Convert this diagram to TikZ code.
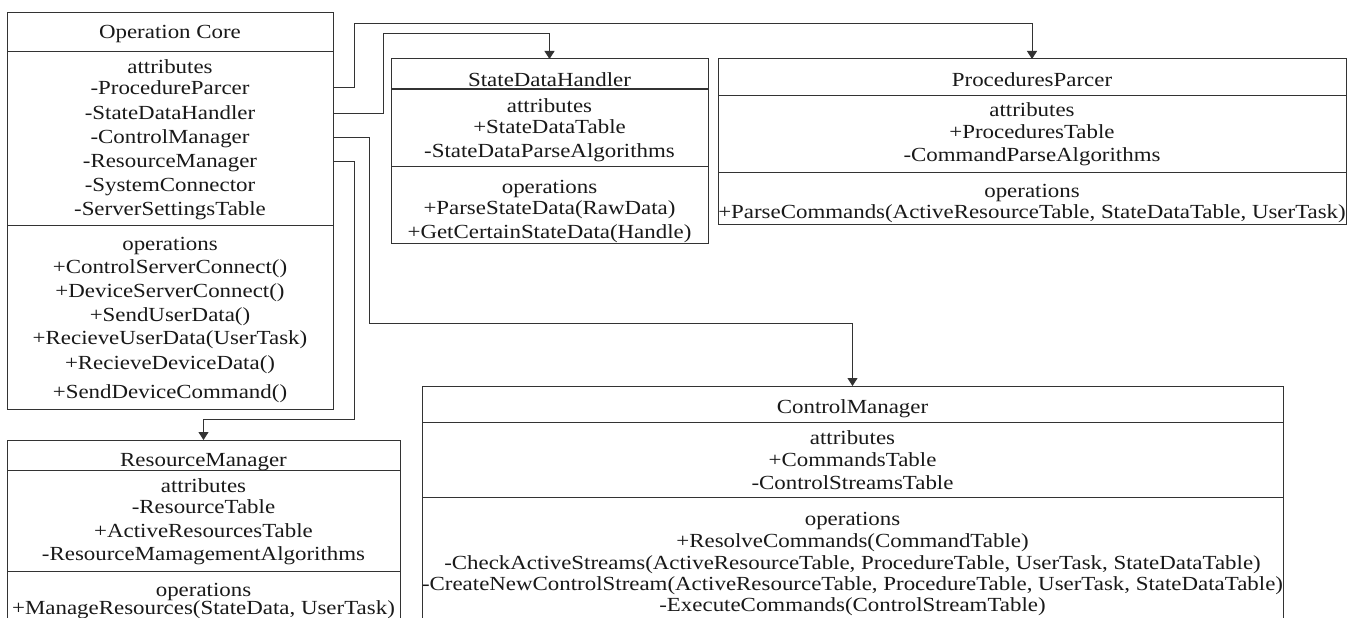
\documentclass[tikz,border=0pt]{standalone}
\usepackage{fontspec}
\setmainfont[FakeStretch=1.145]{Liberation Serif}
\usetikzlibrary{arrows.meta}
\begin{document}
\begin{tikzpicture}[x=1pt,y=-1pt,
  box/.style={draw=black!80, line width=1pt, rectangle, inner sep=0pt, outer sep=0pt, anchor=north west},
  txt/.style={anchor=base, inner sep=0pt, text=black!90, font=\fontsize{20}{24}\selectfont},
  conn/.style={draw=black!80, line width=1pt, -{Triangle[width=10pt,length=8pt]}}]
\fill[white, use as bounding box] (0,0) rectangle (1355,618);
\clip (0,0) rectangle (1355,618);
% Operation Core
\node[box, minimum width=326pt, minimum height=39pt] (opcT) at (7,13) {};
\node[box, minimum width=326pt, minimum height=173pt] (opcA) at (7,52) {};
\node[box, minimum width=326pt, minimum height=184pt] (opcO) at (7,225) {};
\node[txt] (opc0) at (170,39) {Operation Core};
\node[txt] (opc1) at (170,74) {attributes};
\node[txt] (opc2) at (170,95) {-ProcedureParcer};
\node[txt] (opc3) at (170,119) {-StateDataHandler};
\node[txt] (opc4) at (170,143) {-ControlManager};
\node[txt] (opc5) at (170,167) {-ResourceManager};
\node[txt] (opc6) at (170,191) {-SystemConnector};
\node[txt] (opc7) at (170,215) {-ServerSettingsTable};
\node[txt] (opc8) at (170,250) {operations};
\node[txt] (opc9) at (170,273) {+ControlServerConnect()};
\node[txt] (opc10) at (170,297) {+DeviceServerConnect()};
\node[txt] (opc11) at (170,321) {+SendUserData()};
\node[txt] (opc12) at (170,344) {+RecieveUserData(UserTask)};
\node[txt] (opc13) at (170,369) {+RecieveDeviceData()};
\node[txt] (opc14) at (170,398) {+SendDeviceCommand()};
% StateDataHandler
\node[box, minimum width=317pt, minimum height=30pt] (sdhT) at (391,59) {};
\node[box, minimum width=317pt, minimum height=77pt] (sdhA) at (391,89) {};
\node[box, minimum width=317pt, minimum height=77pt] (sdhO) at (391,166) {};
\node[txt] (sdh0) at (549.5,86) {StateDataHandler};
\node[txt] (sdh1) at (549.5,112) {attributes};
\node[txt] (sdh2) at (549.5,133) {+StateDataTable};
\node[txt] (sdh3) at (549.5,157) {-StateDataParseAlgorithms};
\node[txt] (sdh4) at (549.5,193) {operations};
\node[txt] (sdh5) at (549.5,214) {+ParseStateData(RawData)};
\node[txt] (sdh6) at (549.5,238) {+GetCertainStateData(Handle)};
% ProceduresParcer
\node[box, minimum width=628pt, minimum height=36pt] (ppT) at (718,59) {};
\node[box, minimum width=628pt, minimum height=77pt] (ppA) at (718,95) {};
\node[box, minimum width=628pt, minimum height=52pt] (ppO) at (718,172) {};
\node[txt] (pp0) at (1032,86) {ProceduresParcer};
\node[txt] (pp1) at (1032,117) {attributes};
\node[txt] (pp2) at (1032,138) {+ProceduresTable};
\node[txt] (pp3) at (1032,161) {-CommandParseAlgorithms};
\node[txt] (pp4) at (1032,197) {operations};
\node[txt] (pp5) at (1032,218) {+ParseCommands(ActiveResourceTable, StateDataTable, UserTask)};
% ControlManager
\node[box, minimum width=861pt, minimum height=36pt] (cmT) at (422,386) {};
\node[box, minimum width=861pt, minimum height=75pt] (cmA) at (422,422) {};
\node[box, minimum width=861pt, minimum height=143pt] (cmO) at (422,497) {};
\node[txt] (cm0) at (852.5,413) {ControlManager};
\node[txt] (cm1) at (852.5,444) {attributes};
\node[txt] (cm2) at (852.5,466) {+CommandsTable};
\node[txt] (cm3) at (852.5,489) {-ControlStreamsTable};
\node[txt] (cm4) at (852.5,525) {operations};
\node[txt] (cm5) at (852.5,547) {+ResolveCommands(CommandTable)};
\node[txt] (cm6) at (852.5,569) {-CheckActiveStreams(ActiveResourceTable, ProcedureTable, UserTask, StateDataTable)};
\node[txt] (cm7) at (852.5,590) {-CreateNewControlStream(ActiveResourceTable, ProcedureTable, UserTask, StateDataTable)};
\node[txt] (cm8) at (852.5,611) {-ExecuteCommands(ControlStreamTable)};
% ResourceManager
\node[box, minimum width=393pt, minimum height=30pt] (rmT) at (7,440) {};
\node[box, minimum width=393pt, minimum height=101pt] (rmA) at (7,470) {};
\node[box, minimum width=393pt, minimum height=69pt] (rmO) at (7,571) {};
\node[txt] (rm0) at (203.5,466) {ResourceManager};
\node[txt] (rm1) at (203.5,492) {attributes};
\node[txt] (rm2) at (203.5,513) {-ResourceTable};
\node[txt] (rm3) at (203.5,537) {+ActiveResourcesTable};
\node[txt] (rm4) at (203.5,560) {-ResourceMamagementAlgorithms};
\node[txt] (rm5) at (203.5,596) {operations};
\node[txt] (rm6) at (203.5,614) {+ManageResources(StateData, UserTask)};
% connectors
\draw[conn] ([yshift=-36pt]opcA.north east) -- ++(21,0) |- ([yshift=35pt]ppT.north) -- (ppT.north);
\draw[conn] ([yshift=-61pt]opcA.north east) -- ++(50,0) |- ([yshift=25pt]sdhT.north) -- (sdhT.north);
\draw[conn] ([yshift=-85pt]opcA.north east) -- ++(36,0) |- ([yshift=63pt]cmT.north) -- (cmT.north);
\draw[conn] ([yshift=-109pt]opcA.north east) -- ++(21,0) |- ([yshift=21pt]rmT.north) -- (rmT.north);
\end{tikzpicture}
\end{document}
